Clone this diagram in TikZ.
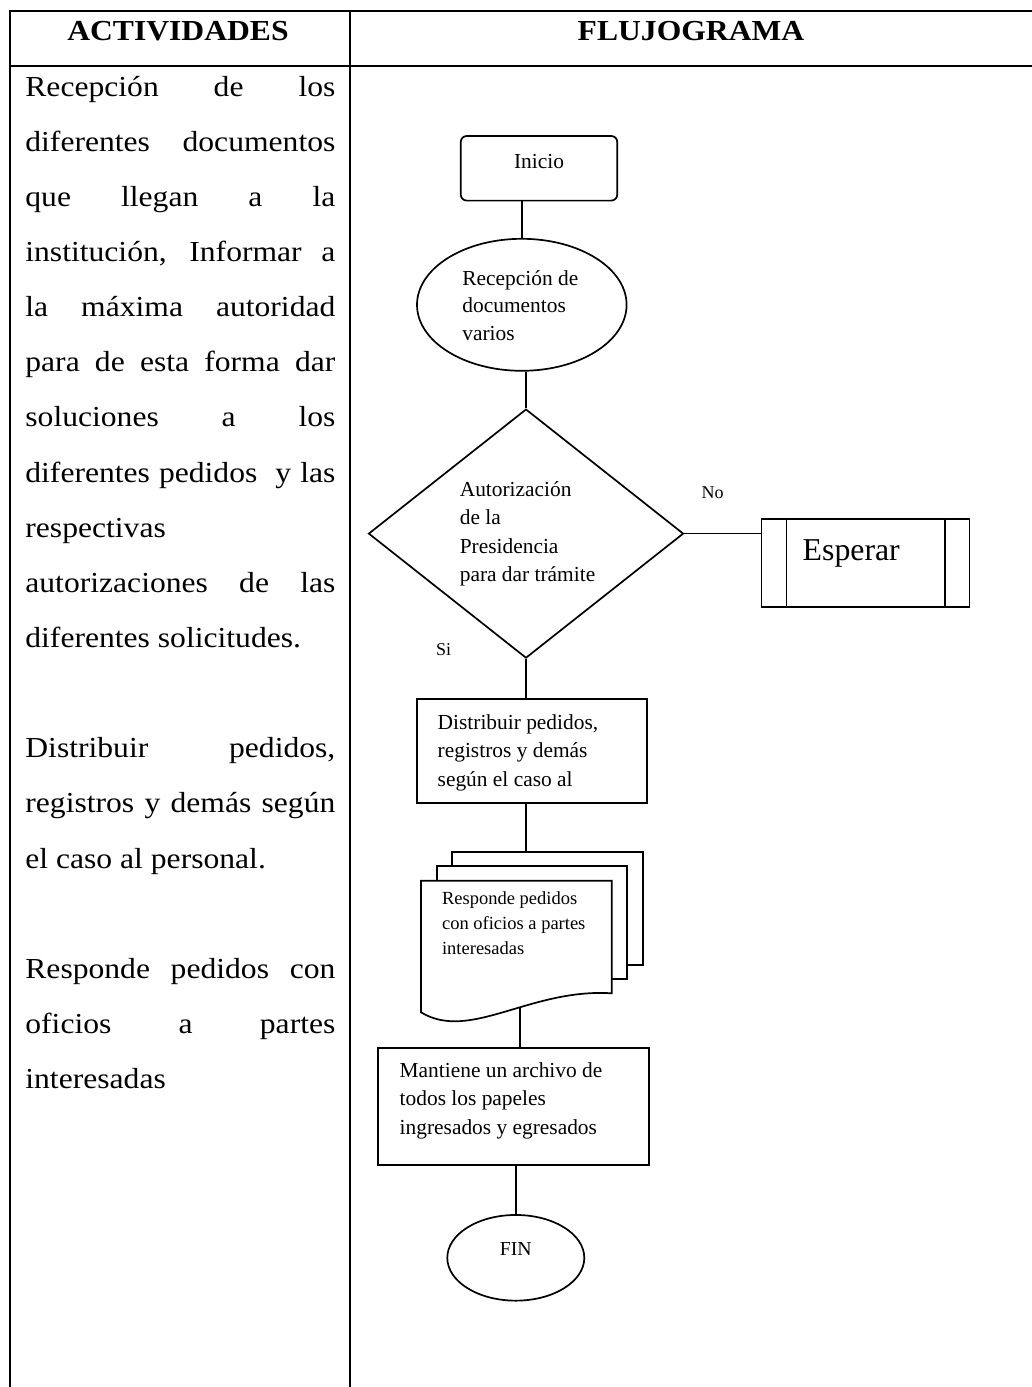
\documentclass[tikz,border=0pt]{standalone}
\usepackage{fontspec}
\setmainfont{Liberation Serif}
\usepackage{graphicx}
\usetikzlibrary{shapes.geometric,calc}
\newcommand\jl[1]{\scalebox{1.09}[1]{\makebox[142.2pt][s]{#1}}}
\newcommand\nl[1]{\scalebox{1.09}[1]{#1}}
\begin{document}
\begin{tikzpicture}[x=0.5pt,y=-0.5pt,
  gridline/.style={line width=1pt},
  body/.style={anchor=base west, inner sep=0pt, font=\fontsize{14.5}{17}\selectfont},
  head/.style={anchor=base, inner sep=0pt, font=\fontsize{14.5}{17}\selectfont\bfseries},
  flow/.style={draw, line width=0.85pt, inner sep=0pt, fill=white},
  ftext/.style={anchor=base west, inner sep=0pt, font=\fontsize{10.7}{14.15}\selectfont},
  conn/.style={line width=0.85pt},
  lbl/.style={anchor=base, inner sep=0pt, font=\fontsize{9}{11}\selectfont}]
\useasboundingbox (0,0) rectangle (1032,1387);

% table
\draw[gridline] (1032,11) -- (10,11) -- (10,1387);
\draw[gridline] (10,66) -- (1032,66);
\draw[gridline] (350,11) -- (350,1387);
\node[head] (hact) at (178,40.7) {\scalebox{1.09}[1]{ACTIVIDADES}};
\node[head] (hflu) at (691,40.7) {\scalebox{1.09}[1]{FLUJOGRAMA}};

% left column
\node[body] (l1) at (25,96) {\jl{Recepción de los}};
\node[body] (l2) at (25,151.15) {\jl{diferentes documentos}};
\node[body] (l3) at (25,206.3) {\jl{que llegan a la}};
\node[body] (l4) at (25,261.45) {\jl{institución, Informar a}};
\node[body] (l5) at (25,316.6) {\jl{la máxima autoridad}};
\node[body] (l6) at (25,371.75) {\jl{para de esta forma dar}};
\node[body] (l7) at (25,426.9) {\jl{soluciones a los}};
\node[body] (l8) at (25,482.05) {\jl{diferentes pedidos\ \ y las}};
\node[body] (l9) at (25,537.2) {\nl{respectivas}};
\node[body] (l10) at (25,592.35) {\jl{autorizaciones de las}};
\node[body] (l11) at (25,647.5) {\nl{diferentes solicitudes.}};
\node[body] (l13) at (25,757.8) {\jl{Distribuir pedidos,}};
\node[body] (l14) at (25,812.95) {\jl{registros y demás según}};
\node[body] (l15) at (25,868.1) {\nl{el caso al personal.}};
\node[body] (l17) at (25,978.4) {\jl{Responde pedidos con}};
\node[body] (l18) at (25,1033.55) {\jl{oficios a partes}};
\node[body] (l19) at (25,1088.7) {\nl{interesadas}};

% flowchart shapes
\node[flow, rectangle, rounded corners=3pt, minimum width=78.25pt, minimum height=32.3pt] (ini) at (539,168.3) {};
\node[flow, ellipse, minimum width=104.8pt, minimum height=66pt] (rec) at (521.8,304.8) {};
\node[flow, diamond, minimum width=157.5pt, minimum height=124.5pt] (dec) at (526,533.6) {};
\node[flow, rectangle, minimum width=103.95pt, minimum height=44pt] (esp) at (865.55,562.8) {};
\node[flow, rectangle, minimum width=115pt, minimum height=52.15pt] (dist) at (531.7,751.15) {};
\node[flow, rectangle, minimum width=135.2pt, minimum height=58.35pt] (mant) at (513.5,1106.65) {};
\node[flow, ellipse, minimum width=68.5pt, minimum height=42.85pt] (fin) at (515.8,1257.8) {};

\draw[conn] ([xshift=12.85pt]esp.north west) -- ([xshift=12.85pt]esp.south west);
\draw[conn] ([xshift=-12.65pt]esp.north east) -- ([xshift=-12.65pt]esp.south east);

% document stack
\draw[conn, fill=white] (451.7,852.3) rectangle (642.7,965);
\draw[conn, fill=white] (437,866.3) rectangle (626.7,979.3);
\draw[conn, fill=white] (421,880.7) -- (611.7,880.7) -- (611.7,993.3)
   .. controls (530,988) and (470,1042) .. (421,1012.3) -- cycle;
\coordinate (dtop) at (525.7,852.3);
\coordinate (dbot) at (519.7,1006.8);

% connectors
\draw[conn] (rec.north |- ini.south) -- (rec.north);
\draw[conn] (dec.north |- rec.south) -- (dec.north);
\draw[conn] (dec.east) -- (dec.east -| esp.west);
\draw[conn] (dec.south) -- (dec.south |- dist.north);
\draw[conn] (dtop |- dist.south) -- (dtop);
\draw[conn] (dbot) -- (dbot |- mant.north);
\draw[conn] (fin.north |- mant.south) -- (fin.north);

% flowchart texts
\node[anchor=base, inner sep=0pt, font=\fontsize{10.7}{14}\selectfont] (tini) at (539,168.4) {Inicio};
\node[ftext, font=\fontsize{10.7}{13.85}\selectfont] (trec) at (462,285) {\vtop{\hbox{Recepción de}\hbox{documentos}\hbox{varios}}};
\node[ftext, font=\fontsize{10.7}{14.1}\selectfont] (tdec) at (459.4,496.6) {\vtop{\hbox{Autorización}\hbox{de la}\hbox{Presidencia}\hbox{para dar trámite}}};
\node[anchor=base west, inner sep=0pt, font=\fontsize{15.9}{18}\selectfont] (tesp) at (802.3,560.6) {Esperar};
\node[ftext, font=\fontsize{10.7}{14.2}\selectfont] (tdist) at (437.3,729.3) {\vtop{\hbox{Distribuir pedidos,}\hbox{registros y demás}\hbox{según el caso al}}};
\node[ftext, font=\fontsize{9.25}{12.6}\selectfont] (tdoc) at (441.7,904) {\vtop{\hbox{Responde pedidos}\hbox{con oficios a partes}\hbox{interesadas}}};
\node[ftext, font=\fontsize{10.7}{14.2}\selectfont] (tmant) at (399.3,1077.3) {\vtop{\hbox{Mantiene un archivo de}\hbox{todos los papeles}\hbox{ingresados y egresados}}};
\node[anchor=base, inner sep=0pt, font=\fontsize{9.9}{12}\selectfont] (tfin) at (515.7,1255) {FIN};
\node[lbl] (tno) at (712.6,498.4) {No};
\node[lbl] (tsi) at (443.7,655) {Si};
\end{tikzpicture}
\end{document}
